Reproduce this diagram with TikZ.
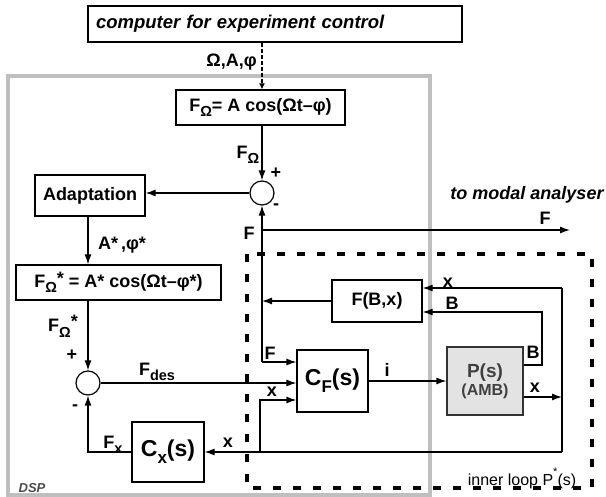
\documentclass[tikz,border=0pt]{standalone}
\usepackage{fontspec}
\setmainfont{Liberation Sans}
\usetikzlibrary{arrows.meta,calc}
\newcommand\dnsm[1]{\raisebox{-0.55ex}{\fontsize{14.5}{14.5}\selectfont #1}}
\newcommand\dnbig[1]{\raisebox{-0.6ex}{\fontsize{17}{17}\selectfont #1}}
\begin{document}
\begin{tikzpicture}[x=1pt,y=-1pt,
  font=\fontsize{18}{21}\selectfont\bfseries,
  box/.style={draw, line width=1.2pt, inner sep=0pt, anchor=center},
  arr/.style={line width=1.2pt, -{Latex[length=10pt,width=7pt]}},
  ln/.style={line width=1.2pt},
  sumc/.style={draw, circle, line width=1.2pt, minimum size=24pt, inner sep=0pt},
  lab/.style={inner sep=0pt}]
\useasboundingbox (0,0) rectangle (606,497);
% DSP border and inner loop border
\draw[line width=4pt, color=gray!50] (8,76) rectangle (430,495);
\draw[line width=3.5pt, dash pattern=on 8pt off 12pt] (247,254) rectangle (592,488);
% blocks
\node[box, minimum width=374pt, minimum height=36pt, text width=358pt, align=left] (comp) at (275,24) {\fontsize{18.5}{21}\selectfont\itshape computer for experiment control};
\node[box, minimum width=169pt, minimum height=35pt] (fo) at (260.5,107.5) {F\dnsm{Ω}= A cos(Ωt–φ)};
\node[sumc] (s1) at (262,193) {};
\node[box, minimum width=110pt, minimum height=41pt] (ad) at (90,195.5) {Adaptation};
\node[box, minimum width=205pt, minimum height=35pt] (fos) at (118.5,282.5) {F\dnsm{Ω}\raisebox{0.3ex}{*} = A* cos(Ωt–φ*)};
\node[sumc] (s2) at (88,383) {};
\node[box, minimum width=72pt, minimum height=60pt] (cx) at (168,452) {\fontsize{23}{24}\selectfont C\dnbig{x}(s)};
\node[box, minimum width=71pt, minimum height=62pt] (cf) at (332.5,381) {\fontsize{23}{24}\selectfont C\dnbig{F}(s)};
\node[box, minimum width=90pt, minimum height=42pt] (fbx) at (377,301) {F(B,x)};
\node[box, fill=gray!22, draw=black!80, text=black!75, minimum width=76pt, minimum height=68pt, align=center] (p) at (485,381) {\fontsize{19}{20}\selectfont P(s)\\[-3pt]\fontsize{16}{18}\selectfont (AMB)};
% coordinates
\coordinate (fjunc) at (262,230);
\coordinate (fout) at (570,230);
\coordinate (fbot) at (262,362);
\coordinate (xr) at (562,397);
\coordinate (xtop) at (562,288);
\coordinate (xbot) at (562,452);
\coordinate (b1) at (542,365);
\coordinate (b2) at (542,312);
\coordinate (xbr) at (260,452);
\coordinate (xbr2) at (260,400);
% connectors
\draw[line width=1.5pt, dash pattern=on 4pt off 2pt, -{Latex[length=6pt,width=6pt]}] (comp.south -| s1) -- (fo.north -| s1);
\draw[arr] (fo.south -| s1) -- (s1.north);
\draw[arr] (s1.west) -- (s1.west -| ad.east);
\draw[arr] (ad.south -| s2) -- (fos.north -| s2);
\draw[arr] (fos.south -| s2) -- (s2.north);
\draw[arr] (s2.east) -- (s2.east -| cf.west);
\draw[arr] (fbot) -- (s1.south);
\draw[arr] (fbot) -- (fbot -| cf.west);
\draw[arr] (fjunc) -- (fout);
\draw[arr] (fbx.west) -- (fbx.west -| fbot);
\draw[arr] (cf.east) -- (p.west);
\draw[arr] (xr -| p.east) -- (xr);
\draw[ln] (xtop) -- (xbot);
\draw[arr] (xtop) -- (xtop -| fbx.east);
\draw[arr] (b1 -| p.east) -- (b1) -- (b2) -- (b2 -| fbx.east);
\draw[arr] (xbot) -- (xbot -| cx.east);
\draw[arr] (xbr) -- (xbr2) -- (xbr2 -| cf.west);
\draw[arr] (cx.west) -| (s2.south);
% labels
\node[lab, anchor=east] (lom) at (257,62) {Ω,A,φ};
\node[lab] (lfo) at (248,155) {F\dnsm{Ω}};
\node[lab] (lp1) at (276,173) {+};
\node[lab] (lm1) at (276,207) {-};
\node[lab] (lf1) at (249,233) {F};
\node[lab] (lmod) at (527,195) {\itshape to modal analyser};
\node[lab] (lf2) at (545,218) {F};
\node[lab] (las) at (122,245) {A*\,,φ*};
\node[lab] (lfos) at (63,326) {F\dnsm{Ω}\raisebox{0.5ex}{*}};
\node[lab] (lp2) at (72,355) {+};
\node[lab] (lm2) at (75,408) {-};
\node[lab] (lfd) at (157,372) {F\dnsm{des}};
\node[lab] (lfx) at (113,445) {F\dnsm{x}};
\node[lab] (lx1) at (228,443) {x};
\node[lab] (lf3) at (270,353) {F};
\node[lab] (lx2) at (272,392) {x};
\node[lab] (li) at (387,370) {i};
\node[lab] (lx3) at (448,283) {x};
\node[lab] (lb1) at (452,303) {B};
\node[lab] (lb2) at (533,352) {B};
\node[lab] (lx4) at (535,388) {x};
\node[lab, font=\fontsize{16}{18}\selectfont\mdseries] (linner) at (522,478) {inner loop P\raisebox{1.2ex}{\fontsize{11}{11}\selectfont *}(s)};
\node[lab, font=\fontsize{13}{15}\selectfont\bfseries\itshape, text=black!70] (ldsp) at (32,488) {DSP};
\end{tikzpicture}
\end{document}
